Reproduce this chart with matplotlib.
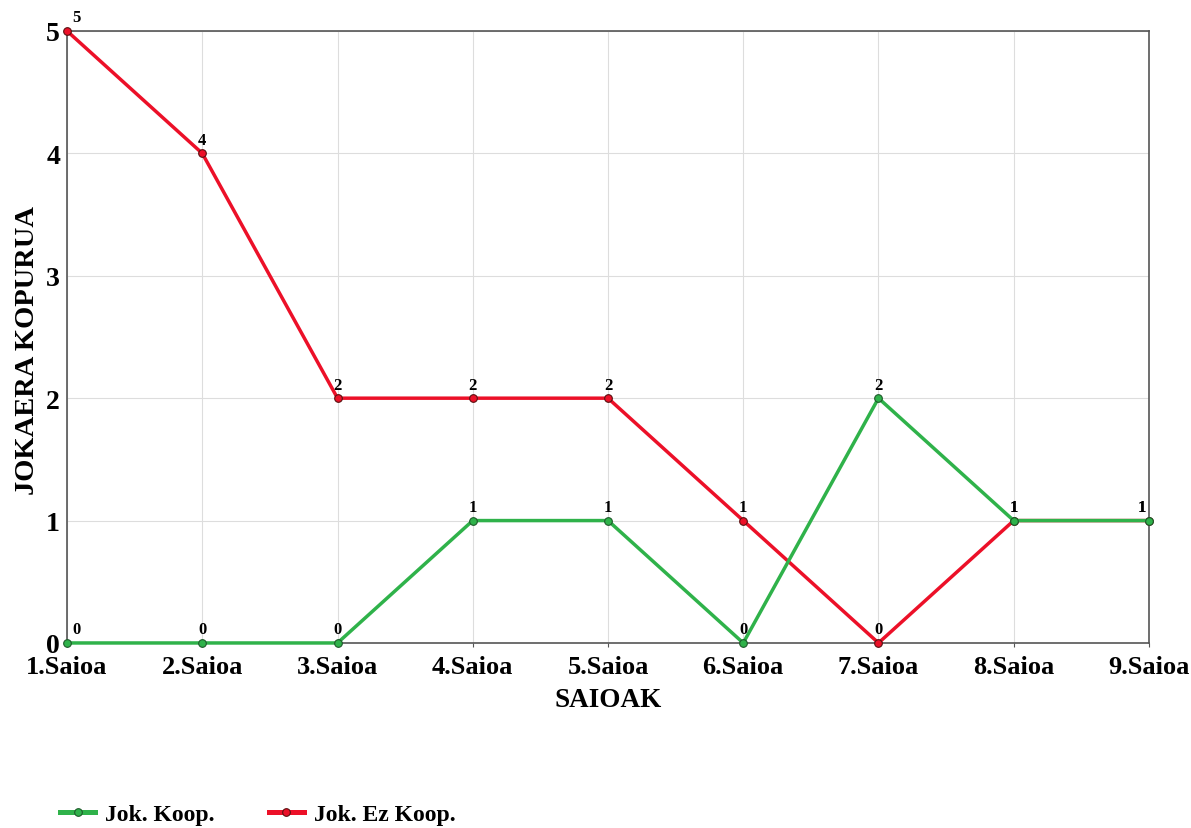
import numpy as np
import matplotlib.pyplot as plt

saioak = ['1.Saioa', '2.Saioa', '3.Saioa', '4.Saioa', '5.Saioa',
          '6.Saioa', '7.Saioa', '8.Saioa', '9.Saioa']
jok_koop = [0, 0, 0, 1, 1, 0, 2, 1, 1]
jok_ez_koop = [5, 4, 2, 2, 2, 1, 0, 1, 1]

plt.rcParams['font.family'] = ['Liberation Serif', 'DejaVu Serif']
plt.rcParams['font.weight'] = 'bold'

fig = plt.figure(figsize=(11.91, 8.29), dpi=100)
ax = fig.add_axes([0.0563, 0.2232, 0.9084, 0.7382])

x = np.arange(len(saioak))
green = '#2fb24a'
red = '#ec1028'

ax.plot(x, jok_ez_koop, color=red, lw=2.5, marker='o', ms=5.5,
        mfc=red, mec='#5a1010', mew=0.8, clip_on=False, zorder=3,
        label='Jok. Ez Koop.')
ax.plot(x, jok_koop, color=green, lw=2.5, marker='o', ms=5.5,
        mfc=green, mec='#1d5a2a', mew=0.8, clip_on=False, zorder=4,
        label='Jok. Koop.')

# balioen etiketak
for serie in (jok_ez_koop, jok_koop):
    for i, v in enumerate(serie):
        if i == 0:
            ha, dx = 'left', 3.5
        elif i == len(serie) - 1:
            ha, dx = 'right', -2
        else:
            ha, dx = 'center', 0
        ax.annotate(str(v), (i, v), xytext=(dx, 4), textcoords='offset points',
                    ha=ha, va='bottom', fontsize=12, fontweight='bold',
                    annotation_clip=False, zorder=5)

ax.set_xlim(0, len(saioak) - 1)
ax.set_ylim(0, 5)
ax.set_xticks(x)
ax.set_xticklabels(saioak, fontsize=19, fontweight='bold')
ax.set_yticks(range(6))
ax.set_yticklabels([str(t) for t in range(6)], fontsize=20, fontweight='bold')
ax.tick_params(axis='y', length=0, pad=5)
ax.tick_params(axis='x', length=3, color='#555555', pad=5.5)
ax.grid(True, color='#dddddd', lw=0.8)
ax.set_axisbelow(True)
for s in ax.spines.values():
    s.set_color('#555555')
    s.set_linewidth(1.2)

ax.set_xlabel('SAIOAK', fontsize=19.5, fontweight='bold', labelpad=7)
ax.set_ylabel('JOKAERA KOPURUA', fontsize=20.5, fontweight='bold')
ax.yaxis.set_label_coords(-0.025, 0.48)

h, l = ax.get_legend_handles_labels()
leg = fig.legend(h[::-1], l[::-1], loc='center left', bbox_to_anchor=(0.0425, 0.016),
                 ncol=2, frameon=False, fontsize=17, handlelength=1.48,
                 columnspacing=2.3, handletextpad=0.42, borderpad=0.4,
                 borderaxespad=0)
for ln in leg.get_lines():
    ln.set_linewidth(3.6)

fig.savefig('out.png', dpi=100)
